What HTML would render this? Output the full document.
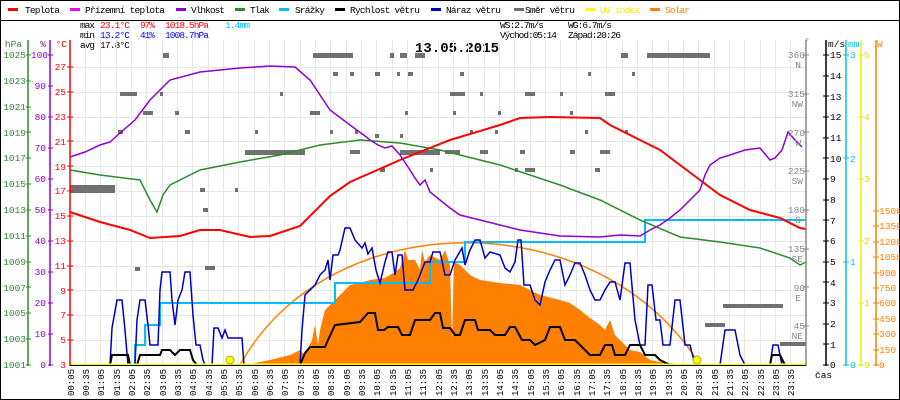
<!DOCTYPE html>
<html><head><meta charset="utf-8"><style>
body{margin:0;background:#fff}
svg{display:block;font-family:"Liberation Mono",monospace;font-size:10px}
</style></head><body>
<svg width="900" height="400" viewBox="0 0 900 400" xmlns="http://www.w3.org/2000/svg">
<rect x="0" y="0" width="900" height="400" fill="#fff"/>
<rect x="0.5" y="0.5" width="899" height="399" fill="none" stroke="#000"/>
<line x1="0" y1="20.5" x2="900" y2="20.5" stroke="#000"/>
<!-- legend -->
<g font-size="9.5">
<rect x="8" y="8" width="10" height="3" fill="#f00"/><text x="25" y="13" textLength="35">Teplota</text>
<rect x="70" y="8" width="10" height="3" fill="#f0f"/><text x="85" y="13" textLength="80">Přízemní teplota</text>
<rect x="176" y="8" width="10" height="3" fill="#9000d0"/><text x="191" y="13" textLength="34">Vlhkost</text>
<rect x="235" y="8" width="10" height="3" fill="#2e8b2e"/><text x="250" y="13" textLength="20">Tlak</text>
<rect x="279" y="8" width="10" height="3" fill="#00bfff"/><text x="295" y="13" textLength="30">Srážky</text>
<rect x="335" y="8" width="10" height="3" fill="#000"/><text x="350" y="13" textLength="70">Rychlost větru</text>
<rect x="431" y="8" width="10" height="3" fill="#0000d0"/><text x="446" y="13" textLength="55">Náraz větru</text>
<rect x="514" y="8" width="10" height="3" fill="#707070"/><text x="525" y="13" textLength="50">Směr větru</text>
<rect x="585" y="8" width="10" height="3" fill="#ff0"/><text x="600" y="13" fill="#ee0" textLength="40">UV index</text>
<rect x="650" y="8" width="10" height="3" fill="#ff8000"/><text x="665" y="13" fill="#ff8000" textLength="25">Solar</text>
</g>
<g font-size="9.5">
<text x="80" y="28" textLength="15">max</text><text x="100" y="28" fill="#f00" textLength="30">23.1°C</text><text x="140" y="28" fill="#f00" textLength="15">97%</text><text x="165" y="28" fill="#f00" textLength="44">1018.5hPa</text><text x="225" y="28" fill="#00bfff" textLength="25">1.4mm</text>
<text x="80" y="38" textLength="15">min</text><text x="100" y="38" fill="#00f" textLength="30">13.2°C</text><text x="140" y="38" fill="#00f" textLength="15">41%</text><text x="165" y="38" fill="#00f" textLength="44">1008.7hPa</text>
<text x="80" y="48" textLength="15">avg</text><text x="100" y="48" textLength="30">17.8°C</text>
<text x="500" y="28" textLength="44">WS:2.7m/s</text><text x="568" y="28" textLength="44">WG:6.7m/s</text>
<text x="500" y="38" textLength="57">Východ:05:14</text><text x="568" y="38" textLength="53">Západ:20:26</text>
</g>
<text x="415" y="52" font-size="14" font-weight="bold">13.05.2015</text>
<!-- grid -->
<g stroke="#e6e6e6" stroke-width="1">
<path d="M85.5 40V365M100.5 40V365M116.5 40V365M131.5 40V365M146.5 40V365M162.5 40V365M177.5 40V365M192.5 40V365M208.5 40V365M223.5 40V365M238.5 40V365M254.5 40V365M269.5 40V365M284.5 40V365M300.5 40V365M315.5 40V365M330.5 40V365M346.5 40V365M361.5 40V365M376.5 40V365M392.5 40V365M407.5 40V365M422.5 40V365M438.5 40V365M453.5 40V365M468.5 40V365M484.5 40V365M499.5 40V365M514.5 40V365M530.5 40V365M545.5 40V365M560.5 40V365M576.5 40V365M591.5 40V365M606.5 40V365M622.5 40V365M637.5 40V365M652.5 40V365M668.5 40V365M683.5 40V365M698.5 40V365M714.5 40V365M729.5 40V365M744.5 40V365M760.5 40V365M775.5 40V365M790.5 40V365"/>
<path d="M70 67.5H806M70 92.5H806M70 117.5H806M70 141.5H806M70 166.5H806M70 191.5H806M70 216.5H806M70 241.5H806M70 266.5H806M70 290.5H806M70 315.5H806M70 340.5H806"/>
</g>
<!-- wind direction bars -->
<g fill="#707070">
<rect x="163" y="53" width="6" height="5"/><rect x="313" y="53" width="40" height="5"/><rect x="336" y="53" width="17" height="5"/><rect x="390" y="53" width="4" height="5"/><rect x="400" y="53" width="7" height="5"/><rect x="415" y="53" width="10" height="5"/><rect x="621" y="53" width="7" height="5"/><rect x="647" y="53" width="63" height="5"/>
<rect x="333" y="72" width="5" height="4"/><rect x="350" y="72" width="4" height="4"/><rect x="375" y="72" width="5" height="4"/><rect x="397" y="72" width="3" height="4"/><rect x="408" y="72" width="5" height="4"/><rect x="460" y="72" width="4" height="4"/><rect x="588" y="72" width="3" height="4"/><rect x="632" y="72" width="3" height="4"/>
<rect x="120" y="92" width="17" height="4"/><rect x="160" y="92" width="3" height="4"/><rect x="280" y="92" width="3" height="4"/><rect x="450" y="92" width="15" height="4"/><rect x="480" y="92" width="3" height="4"/><rect x="525" y="92" width="10" height="4"/><rect x="560" y="92" width="3" height="4"/><rect x="605" y="92" width="10" height="4"/>
<rect x="143" y="111" width="10" height="4"/><rect x="175" y="111" width="4" height="4"/><rect x="310" y="111" width="10" height="4"/><rect x="405" y="111" width="3" height="4"/><rect x="453" y="111" width="3" height="4"/><rect x="498" y="111" width="3" height="4"/><rect x="570" y="111" width="3" height="4"/>
<rect x="118" y="130" width="5" height="4"/><rect x="185" y="130" width="5" height="4"/><rect x="255" y="130" width="3" height="4"/><rect x="330" y="130" width="3" height="4"/><rect x="355" y="130" width="3" height="4"/><rect x="375" y="134" width="4" height="4"/><rect x="400" y="134" width="3" height="4"/><rect x="470" y="130" width="3" height="4"/><rect x="495" y="130" width="3" height="4"/><rect x="585" y="130" width="3" height="4"/><rect x="625" y="130" width="3" height="4"/>
<rect x="245" y="150" width="60" height="5"/><rect x="350" y="150" width="10" height="4"/><rect x="400" y="150" width="40" height="5"/><rect x="445" y="150" width="15" height="4"/><rect x="480" y="150" width="8" height="4"/><rect x="520" y="150" width="5" height="4"/><rect x="570" y="150" width="5" height="4"/><rect x="600" y="150" width="10" height="4"/>
<rect x="380" y="168" width="5" height="4"/><rect x="430" y="168" width="3" height="4"/><rect x="515" y="168" width="3" height="4"/><rect x="525" y="168" width="10" height="4"/><rect x="595" y="168" width="5" height="4"/>
<rect x="70" y="185" width="45" height="8"/><rect x="200" y="188" width="5" height="4"/><rect x="235" y="188" width="3" height="4"/>
<rect x="203" y="208" width="5" height="4"/><rect x="135" y="267" width="5" height="4"/><rect x="205" y="266" width="10" height="4"/>
<rect x="723" y="304" width="60" height="4"/><rect x="705" y="323" width="20" height="4"/><rect x="780" y="342" width="26" height="4"/><rect x="441" y="343" width="4" height="4"/>
</g>
<!-- solar -->
<path fill="#ff8000" d="M245 365L270 360L290 355L300 350L305 355L312 340L315 325L318 345L320 330L325 310L330 305L335 300L340 295L345 290L350 285L360 283L370 280L385 278L390 275L395 272L400 268L405 250L408 260L415 260L420 270L422 250L425 262L430 255L440 260L445 250L450 265L452 340L454 262L460 265L470 275L480 280L500 283L520 285L530 290L540 295L560 300L570 303L580 310L590 318L600 325L605 330L610 320L615 335L620 340L630 350L640 352L650 360L660 362L690 365Z"/>
<path fill="none" stroke="#ff8000" stroke-width="1.5" d="M240 365C330 202 600 202 700 365"/>
<!-- precipitation -->
<path fill="none" stroke="#00bfff" stroke-width="2" d="M70 365H135V345H145V325H160V303H335V283H430V262H465V242H645V220H806"/>
<!-- pressure -->
<polyline fill="none" stroke="#2e8b2e" stroke-width="1.5" points="70,170 100,175 140,180 150,200 157,212 163,195 170,185 200,170 240,162 280,155 320,145 360,140 400,143 440,150 500,165 560,185 600,200 640,220 680,237 720,242 760,248 790,258 800,265 806,262"/>
<!-- temperature -->
<polyline fill="none" stroke="#f00" stroke-width="2" points="70,212 100,222 130,230 150,238 180,236 200,230 220,230 250,237 270,236 300,226 330,196 350,182 400,160 450,140 500,125 520,118 550,117 600,118 610,125 640,140 660,150 680,165 700,180 720,195 750,210 780,218 800,228 806,229"/>
<!-- humidity -->
<polyline fill="none" stroke="#9000d0" stroke-width="1.5" points="70,157 85,152 100,145 110,142 120,133 135,120 150,100 170,80 200,72 240,68 270,66 295,67 310,80 330,110 350,125 365,136 370,140 378,145 385,148 392,146 400,155 410,170 415,178 420,185 425,180 430,192 440,200 450,208 460,215 480,220 500,225 520,230 540,233 560,236 600,237 620,235 640,236 650,230 660,225 670,218 680,210 690,200 700,190 705,175 710,165 720,158 730,155 745,150 760,148 770,160 775,158 782,150 788,132 795,140 802,147"/>
<!-- gusts -->
<polyline fill="none" stroke="#0000c0" stroke-width="1.5" points="70,365 110,365 112,328 117,300 122,300 125,330 128,365 135,365 137,320 140,300 145,300 148,325 150,345 158,345 160,290 162,272 170,272 172,300 175,325 178,300 182,290 185,272 190,272 193,315 196,345 200,345 203,360 205,365 212,365 214,328 218,328 222,338 225,330 228,338 242,338 244,365 300,365 302,330 305,295 315,285 320,275 325,270 328,260 330,280 333,255 338,255 340,250 345,228 350,228 355,240 362,248 365,243 368,254 372,248 376,270 380,283 385,262 388,252 392,252 395,275 398,255 402,255 405,290 408,290 413,290 418,280 425,262 430,262 433,252 440,252 445,275 450,275 455,260 462,248 465,265 470,250 475,240 480,240 485,258 490,252 500,255 505,268 510,272 515,262 518,240 521,240 524,285 530,285 535,300 540,305 545,282 550,270 555,260 560,260 565,285 570,275 575,263 580,263 585,275 590,290 595,300 600,300 605,290 610,282 615,282 620,300 625,263 630,263 635,320 640,345 645,345 648,285 652,285 656,320 660,320 663,345 670,345 675,300 680,300 685,345 690,345 695,365 720,365 725,330 735,330 740,355 745,365 770,365 773,345 778,345 782,365 806,365"/>
<!-- wind speed -->
<polyline fill="none" stroke="#000" stroke-width="2" points="70,365 110,365 112,355 128,355 130,365 137,365 140,355 160,355 162,350 170,350 175,355 180,350 190,350 193,360 197,365 300,365 305,353 310,347 325,347 328,340 335,325 360,322 368,313 375,313 378,330 384,330 388,327 398,327 402,335 410,335 415,320 430,320 435,313 440,313 443,328 450,328 455,335 460,335 465,320 475,320 478,330 490,330 495,335 505,335 510,327 515,327 522,340 530,340 535,345 545,340 550,327 560,327 565,340 575,340 580,345 590,355 600,355 605,345 612,345 615,355 625,355 630,345 640,345 645,355 655,355 660,360 670,365 770,365 772,355 780,355 785,365 806,365"/>
<!-- UV -->
<line x1="70" y1="364.5" x2="806" y2="364.5" stroke="#ff0" stroke-width="2"/>
<circle cx="230" cy="360" r="4" fill="#ff0" stroke="#aa0"/><circle cx="697" cy="360" r="4" fill="#ff0" stroke="#aa0"/>
<!-- axes -->
<g stroke-width="1.5">
<line x1="28" y1="40" x2="28" y2="366" stroke="#2e8b2e"/>
<line x1="50" y1="40" x2="50" y2="366" stroke="#9000d0"/>
<line x1="70" y1="40" x2="70" y2="366" stroke="#f00"/>
<line x1="806" y1="40" x2="806" y2="366" stroke="#888"/>
<line x1="826" y1="40" x2="826" y2="366" stroke="#000"/>
<line x1="846" y1="40" x2="846" y2="366" stroke="#00bfff"/>
<line x1="861" y1="40" x2="861" y2="366" stroke="#ee0"/>
<line x1="876" y1="40" x2="876" y2="366" stroke="#ff8000"/>
</g>
<line x1="70" y1="365.5" x2="806" y2="365.5" stroke="#000"/>
<g font-size="9.5" fill="#2e8b2e" text-anchor="end">
<text x="22" y="47">hPa</text>
<text x="26" y="58">1025</text><text x="26" y="84">1023</text><text x="26" y="110">1021</text><text x="26" y="136">1019</text><text x="26" y="161">1017</text><text x="26" y="187">1015</text><text x="26" y="213">1013</text><text x="26" y="239">1011</text><text x="26" y="265">1009</text><text x="26" y="291">1007</text><text x="26" y="316">1005</text><text x="26" y="342">1003</text><text x="26" y="368">1001</text>
</g>
<g font-size="9.5" fill="#9000d0" text-anchor="end">
<text x="46" y="47">%</text>
<text x="48" y="58">100</text><text x="46" y="89">90</text><text x="46" y="120">80</text><text x="46" y="151">70</text><text x="46" y="182">60</text><text x="46" y="213">50</text><text x="46" y="244">40</text><text x="46" y="275">30</text><text x="46" y="306">20</text><text x="46" y="337">10</text><text x="46" y="368">0</text>
</g>
<g font-size="9.5" fill="#f00" text-anchor="end">
<text x="67" y="47">°C</text>
<text x="66" y="70">27</text><text x="66" y="95">25</text><text x="66" y="120">23</text><text x="66" y="145">21</text><text x="66" y="170">19</text><text x="66" y="194">17</text><text x="66" y="219">15</text><text x="66" y="244">13</text><text x="66" y="269">11</text><text x="66" y="294">9</text><text x="66" y="318">7</text><text x="66" y="343">5</text><text x="66" y="368">3</text>
</g>
<path stroke="#2e8b2e" d="M26 55H31M26 81H31M26 107H31M26 132H31M26 158H31M26 184H31M26 210H31M26 236H31M26 262H31M26 287H31M26 313H31M26 339H31M26 365H31"/>
<path stroke="#9000d0" d="M48 55H53M48 86H53M48 117H53M48 148H53M48 179H53M48 210H53M48 241H53M48 272H53M48 303H53M48 334H53M48 365H53"/>
<path stroke="#f00" d="M67 67H73M67 92H73M67 117H73M67 141H73M67 166H73M67 191H73M67 216H73M67 241H73M67 266H73M67 290H73M67 315H73M67 340H73"/>
<g font-size="9.5" fill="#888" text-anchor="end">
<text x="810" y="44">°</text>
<text x="805" y="58">360</text><text x="801" y="68">N</text>
<text x="805" y="97">315</text><text x="803" y="107">NW</text>
<text x="805" y="136">270</text><text x="801" y="146">W</text>
<text x="805" y="174">225</text><text x="803" y="184">SW</text>
<text x="805" y="213">180</text><text x="801" y="223">S</text>
<text x="805" y="252">135</text><text x="803" y="262">SE</text>
<text x="805" y="291">90</text><text x="801" y="301">E</text>
<text x="805" y="329">45</text><text x="803" y="339">NE</text>
</g>
<g font-size="9.5" fill="#000">
<text x="828" y="47">m/s</text>
<text x="830" y="58">15</text><text x="830" y="79">14</text><text x="830" y="100">13</text><text x="830" y="120">12</text><text x="830" y="141">11</text><text x="830" y="162">10</text><text x="830" y="182">9</text><text x="830" y="203">8</text><text x="830" y="224">7</text><text x="830" y="244">6</text><text x="830" y="265">5</text><text x="830" y="286">4</text><text x="830" y="306">3</text><text x="830" y="327">2</text><text x="830" y="348">1</text><text x="830" y="368">0</text>
<text x="815" y="378">čas</text>
</g>
<path stroke="#000" d="M823 55H829M823 76H829M823 96H829M823 117H829M823 138H829M823 158H829M823 179H829M823 200H829M823 220H829M823 241H829M823 262H829M823 282H829M823 303H829M823 324H829M823 344H829M823 365H829"/>
<path stroke="#888" d="M803 55H809M803 94H809M803 132H809M803 171H809M803 210H809M803 249H809M803 287H809M803 326H809"/>
<g font-size="9.5" fill="#00bfff">
<text x="848" y="47">mm</text>
<text x="850" y="58">3</text><text x="850" y="162">2</text><text x="850" y="265">1</text><text x="850" y="368">0</text>
</g>
<path stroke="#00bfff" d="M843 55H849M843 158H849M843 262H849M843 365H849"/>
<g font-size="9.5" fill="#dd0">
<text x="864" y="58">5</text><text x="864" y="120">4</text><text x="864" y="182">3</text><text x="864" y="244">2</text><text x="864" y="306">1</text><text x="864" y="368">0</text>
</g>
<path stroke="#ee0" d="M858 55H864M858 117H864M858 179H864M858 241H864M858 303H864M858 365H864"/>
<g font-size="9.5" fill="#ff8000">
<text x="877" y="47">W</text>
<text x="879" y="214">1500</text><text x="879" y="229">1350</text><text x="879" y="245">1200</text><text x="879" y="260">1050</text><text x="879" y="276">900</text><text x="879" y="291">750</text><text x="879" y="306">600</text><text x="879" y="322">450</text><text x="879" y="337">300</text><text x="879" y="353">150</text><text x="879" y="368">0</text>
</g>
<path stroke="#ff8000" d="M873 211H879M873 226H879M873 242H879M873 257H879M873 273H879M873 288H879M873 303H879M873 319H879M873 334H879M873 350H879M873 365H879"/>
<g font-size="9" fill="#000">
<text transform="translate(74,396) rotate(-90)">00:05</text><text transform="translate(89,396) rotate(-90)">00:35</text><text transform="translate(104,396) rotate(-90)">01:05</text><text transform="translate(120,396) rotate(-90)">01:35</text><text transform="translate(135,396) rotate(-90)">02:05</text><text transform="translate(150,396) rotate(-90)">02:35</text><text transform="translate(166,396) rotate(-90)">03:05</text><text transform="translate(181,396) rotate(-90)">03:35</text><text transform="translate(196,396) rotate(-90)">04:05</text><text transform="translate(212,396) rotate(-90)">04:35</text><text transform="translate(227,396) rotate(-90)">05:05</text><text transform="translate(242,396) rotate(-90)">05:35</text><text transform="translate(258,396) rotate(-90)">06:05</text><text transform="translate(273,396) rotate(-90)">06:35</text><text transform="translate(288,396) rotate(-90)">07:05</text><text transform="translate(304,396) rotate(-90)">07:35</text><text transform="translate(319,396) rotate(-90)">08:05</text><text transform="translate(334,396) rotate(-90)">08:35</text><text transform="translate(350,396) rotate(-90)">09:05</text><text transform="translate(365,396) rotate(-90)">09:35</text><text transform="translate(380,396) rotate(-90)">10:05</text><text transform="translate(396,396) rotate(-90)">10:35</text><text transform="translate(411,396) rotate(-90)">11:05</text><text transform="translate(426,396) rotate(-90)">11:35</text><text transform="translate(442,396) rotate(-90)">12:05</text><text transform="translate(457,396) rotate(-90)">12:35</text><text transform="translate(472,396) rotate(-90)">13:05</text><text transform="translate(488,396) rotate(-90)">13:35</text><text transform="translate(503,396) rotate(-90)">14:05</text><text transform="translate(518,396) rotate(-90)">14:35</text><text transform="translate(534,396) rotate(-90)">15:05</text><text transform="translate(549,396) rotate(-90)">15:35</text><text transform="translate(564,396) rotate(-90)">16:05</text><text transform="translate(580,396) rotate(-90)">16:35</text><text transform="translate(595,396) rotate(-90)">17:05</text><text transform="translate(610,396) rotate(-90)">17:35</text><text transform="translate(626,396) rotate(-90)">18:05</text><text transform="translate(641,396) rotate(-90)">18:35</text><text transform="translate(656,396) rotate(-90)">19:05</text><text transform="translate(672,396) rotate(-90)">19:35</text><text transform="translate(687,396) rotate(-90)">20:05</text><text transform="translate(702,396) rotate(-90)">20:35</text><text transform="translate(718,396) rotate(-90)">21:05</text><text transform="translate(733,396) rotate(-90)">21:35</text><text transform="translate(748,396) rotate(-90)">22:05</text><text transform="translate(764,396) rotate(-90)">22:35</text><text transform="translate(779,396) rotate(-90)">23:05</text><text transform="translate(794,396) rotate(-90)">23:35</text>
</g>
</svg>
</body></html>
